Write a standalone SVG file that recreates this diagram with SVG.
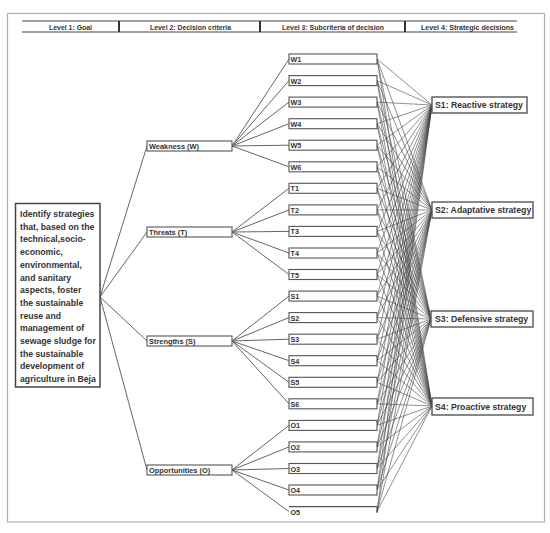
<svg xmlns="http://www.w3.org/2000/svg" width="550" height="533" viewBox="0 0 550 533">
<style>
.frame{fill:none;stroke:#b0b0b0;stroke-width:1.2}
.hdr{font-family:"Liberation Sans",Arial,sans-serif;font-weight:bold;font-size:8px;fill:#333}
.box{fill:#fff;stroke:#555;stroke-width:1.1}
.lbl{font-family:"Liberation Sans",Arial,sans-serif;font-weight:bold;fill:#333}
.tree{fill:none;stroke:#666;stroke-width:1}
.mesh{fill:none;stroke:#444;stroke-width:0.6}
</style>
<rect class="frame" x="7.5" y="13.5" width="537" height="508.5"/>
<g id="header">
<line x1="22" y1="21" x2="517" y2="21" stroke="#444" stroke-width="1"/>
<line x1="22" y1="32" x2="517" y2="32" stroke="#444" stroke-width="1"/>
<line x1="119" y1="21" x2="119" y2="32" stroke="#333" stroke-width="2"/>
<line x1="260" y1="21" x2="260" y2="32" stroke="#333" stroke-width="2"/>
<line x1="405" y1="21" x2="405" y2="32" stroke="#333" stroke-width="2"/>
<text class="hdr" x="49" y="29.5" textLength="43" lengthAdjust="spacingAndGlyphs">Level 1: Goal</text>
<text class="hdr" x="150" y="29.5" textLength="81" lengthAdjust="spacingAndGlyphs">Level 2: Decision criteria</text>
<text class="hdr" x="282" y="29.5" textLength="102" lengthAdjust="spacingAndGlyphs">Level 3: Subcriteria of decision</text>
<text class="hdr" x="421" y="29.5" textLength="93" lengthAdjust="spacingAndGlyphs">Level 4: Strategic decisions</text>
</g>
<g id="connectors">
<path class="tree" d="M100 297L147 146M100 297L147 232M100 297L147 341M100 297L147 470"/>
<path class="tree" d="M232 146L289 59M232 146L289 80.6M232 146L289 102.1M232 146L289 123.7M232 146L289 145.2M232 146L289 166.8
M232 232L289 188.3M232 232L289 209.9M232 232L289 231.4M232 232L289 253M232 232L289 274.5
M232 341L289 296.1M232 341L289 317.6M232 341L289 339.2M232 341L289 360.7M232 341L289 382.3M232 341L289 403.8
M232 470L289 425.4M232 470L289 446.9M232 470L289 468.5M232 470L289 490M232 470L289 511.6"/>
<path class="mesh" d="M377 59L432 105M377 80.6L432 105M377 102.1L432 105M377 123.7L432 105M377 145.2L432 105M377 166.8L432 105M377 188.3L432 105M377 209.9L432 105M377 231.4L432 105M377 253L432 105M377 274.5L432 105M377 296.1L432 105M377 317.6L432 105M377 339.2L432 105M377 360.7L432 105M377 382.3L432 105M377 403.8L432 105M377 425.4L432 105M377 446.9L432 105M377 468.5L432 105M377 490L432 105M377 511.6L432 105"/>
<path class="mesh" d="M377 59L432 210M377 80.6L432 210M377 102.1L432 210M377 123.7L432 210M377 145.2L432 210M377 166.8L432 210M377 188.3L432 210M377 209.9L432 210M377 231.4L432 210M377 253L432 210M377 274.5L432 210M377 296.1L432 210M377 317.6L432 210M377 339.2L432 210M377 360.7L432 210M377 382.3L432 210M377 403.8L432 210M377 425.4L432 210M377 446.9L432 210M377 468.5L432 210M377 490L432 210M377 511.6L432 210"/>
<path class="mesh" d="M377 59L431 319M377 80.6L431 319M377 102.1L431 319M377 123.7L431 319M377 145.2L431 319M377 166.8L431 319M377 188.3L431 319M377 209.9L431 319M377 231.4L431 319M377 253L431 319M377 274.5L431 319M377 296.1L431 319M377 317.6L431 319M377 339.2L431 319M377 360.7L431 319M377 382.3L431 319M377 403.8L431 319M377 425.4L431 319M377 446.9L431 319M377 468.5L431 319M377 490L431 319M377 511.6L431 319"/>
<path class="mesh" d="M377 59L432 406M377 80.6L432 406M377 102.1L432 406M377 123.7L432 406M377 145.2L432 406M377 166.8L432 406M377 188.3L432 406M377 209.9L432 406M377 231.4L432 406M377 253L432 406M377 274.5L432 406M377 296.1L432 406M377 317.6L432 406M377 339.2L432 406M377 360.7L432 406M377 382.3L432 406M377 403.8L432 406M377 425.4L432 406M377 446.9L432 406M377 468.5L432 406M377 490L432 406M377 511.6L432 406"/>
</g>
<g id="goal">
<rect x="15.5" y="203.5" width="84.5" height="183.5" fill="#fff" stroke="#444" stroke-width="1.5"/>
<text class="lbl" font-size="8.7" fill="#444">
<tspan x="20" y="217">Identify strategies</tspan>
<tspan x="20" y="229.7">that, based on the</tspan>
<tspan x="20" y="242.4">technical,socio-</tspan>
<tspan x="20" y="255.1">economic,</tspan>
<tspan x="20" y="267.8">environmental,</tspan>
<tspan x="20" y="280.5">and sanitary</tspan>
<tspan x="20" y="293.2">aspects, foster</tspan>
<tspan x="20" y="305.9">the sustainable</tspan>
<tspan x="20" y="318.6">reuse and</tspan>
<tspan x="20" y="331.3">management of</tspan>
<tspan x="20" y="344">sewage sludge for</tspan>
<tspan x="20" y="356.7">the sustainable</tspan>
<tspan x="20" y="369.4">development of</tspan>
<tspan x="20" y="382.1">agriculture in Beja</tspan>
</text>
</g>
<g id="weakness"><rect class="box" x="147" y="141" width="85" height="10"/><text class="lbl" font-size="7.4" x="149" y="149">Weakness (W)</text></g>
<g id="threats"><rect class="box" x="147" y="227" width="85" height="10"/><text class="lbl" font-size="7.4" x="149" y="235">Threats (T)</text></g>
<g id="strengths"><rect class="box" x="147" y="336" width="85" height="10"/><text class="lbl" font-size="7.4" x="149" y="344">Strengths (S)</text></g>
<g id="opportunities"><rect class="box" x="147" y="465" width="85" height="10"/><text class="lbl" font-size="7.4" x="149" y="473">Opportunities (O)</text></g>
<g id="W1"><rect class="box" x="289" y="54" width="88" height="10"/><text class="lbl" font-size="7.2" x="290.5" y="62">W1</text></g>
<g id="W2"><rect class="box" x="289" y="75.6" width="88" height="10"/><text class="lbl" font-size="7.2" x="290.5" y="83.6">W2</text></g>
<g id="W3"><rect class="box" x="289" y="97.1" width="88" height="10"/><text class="lbl" font-size="7.2" x="290.5" y="105.1">W3</text></g>
<g id="W4"><rect class="box" x="289" y="118.7" width="88" height="10"/><text class="lbl" font-size="7.2" x="290.5" y="126.7">W4</text></g>
<g id="W5"><rect class="box" x="289" y="140.2" width="88" height="10"/><text class="lbl" font-size="7.2" x="290.5" y="148.2">W5</text></g>
<g id="W6"><rect class="box" x="289" y="161.8" width="88" height="10"/><text class="lbl" font-size="7.2" x="290.5" y="169.8">W6</text></g>
<g id="T1"><rect class="box" x="289" y="183.3" width="88" height="10"/><text class="lbl" font-size="7.2" x="290.5" y="191.3">T1</text></g>
<g id="T2"><rect class="box" x="289" y="204.9" width="88" height="10"/><text class="lbl" font-size="7.2" x="290.5" y="212.9">T2</text></g>
<g id="T3"><rect class="box" x="289" y="226.4" width="88" height="10"/><text class="lbl" font-size="7.2" x="290.5" y="234.4">T3</text></g>
<g id="T4"><rect class="box" x="289" y="248" width="88" height="10"/><text class="lbl" font-size="7.2" x="290.5" y="256">T4</text></g>
<g id="T5"><rect class="box" x="289" y="269.5" width="88" height="10"/><text class="lbl" font-size="7.2" x="290.5" y="277.5">T5</text></g>
<g id="S1"><rect class="box" x="289" y="291.1" width="88" height="10"/><text class="lbl" font-size="7.2" x="290.5" y="299.1">S1</text></g>
<g id="S2"><rect class="box" x="289" y="312.6" width="88" height="10"/><text class="lbl" font-size="7.2" x="290.5" y="320.6">S2</text></g>
<g id="S3"><rect class="box" x="289" y="334.2" width="88" height="10"/><text class="lbl" font-size="7.2" x="290.5" y="342.2">S3</text></g>
<g id="S4"><rect class="box" x="289" y="355.7" width="88" height="10"/><text class="lbl" font-size="7.2" x="290.5" y="363.7">S4</text></g>
<g id="S5"><rect class="box" x="289" y="377.3" width="88" height="10"/><text class="lbl" font-size="7.2" x="290.5" y="385.3">S5</text></g>
<g id="S6"><rect class="box" x="289" y="398.8" width="88" height="10"/><text class="lbl" font-size="7.2" x="290.5" y="406.8">S6</text></g>
<g id="O1"><rect class="box" x="289" y="420.4" width="88" height="10"/><text class="lbl" font-size="7.2" x="290.5" y="428.4">O1</text></g>
<g id="O2"><rect class="box" x="289" y="441.9" width="88" height="10"/><text class="lbl" font-size="7.2" x="290.5" y="449.9">O2</text></g>
<g id="O3"><rect class="box" x="289" y="463.5" width="88" height="10"/><text class="lbl" font-size="7.2" x="290.5" y="471.5">O3</text></g>
<g id="O4"><rect class="box" x="289" y="485" width="88" height="10"/><text class="lbl" font-size="7.2" x="290.5" y="493">O4</text></g>
<g id="O5"><path d="M289 506.6H377V513" fill="none" stroke="#555" stroke-width="1.1"/><text class="lbl" font-size="7.2" x="290.5" y="514.6">O5</text></g>
<g id="S1_reactive"><rect x="432" y="97" width="95" height="16" fill="#fff" stroke="#555" stroke-width="1.4"/><text class="lbl" font-size="8.7" x="435" y="108.3">S1: Reactive strategy</text></g>
<g id="S2_adaptative"><rect x="432" y="202" width="101" height="16" fill="#fff" stroke="#555" stroke-width="1.4"/><text class="lbl" font-size="8.7" x="435" y="213.3">S2: Adaptative strategy</text></g>
<g id="S3_defensive"><rect x="431" y="311" width="102" height="16" fill="#fff" stroke="#555" stroke-width="1.4"/><text class="lbl" font-size="8.7" x="435" y="322.3">S3: Defensive strategy</text></g>
<g id="S4_proactive"><rect x="432" y="398" width="101" height="17" fill="#fff" stroke="#555" stroke-width="1.4"/><text class="lbl" font-size="8.7" x="435" y="409.8">S4: Proactive strategy</text></g>
</svg>
